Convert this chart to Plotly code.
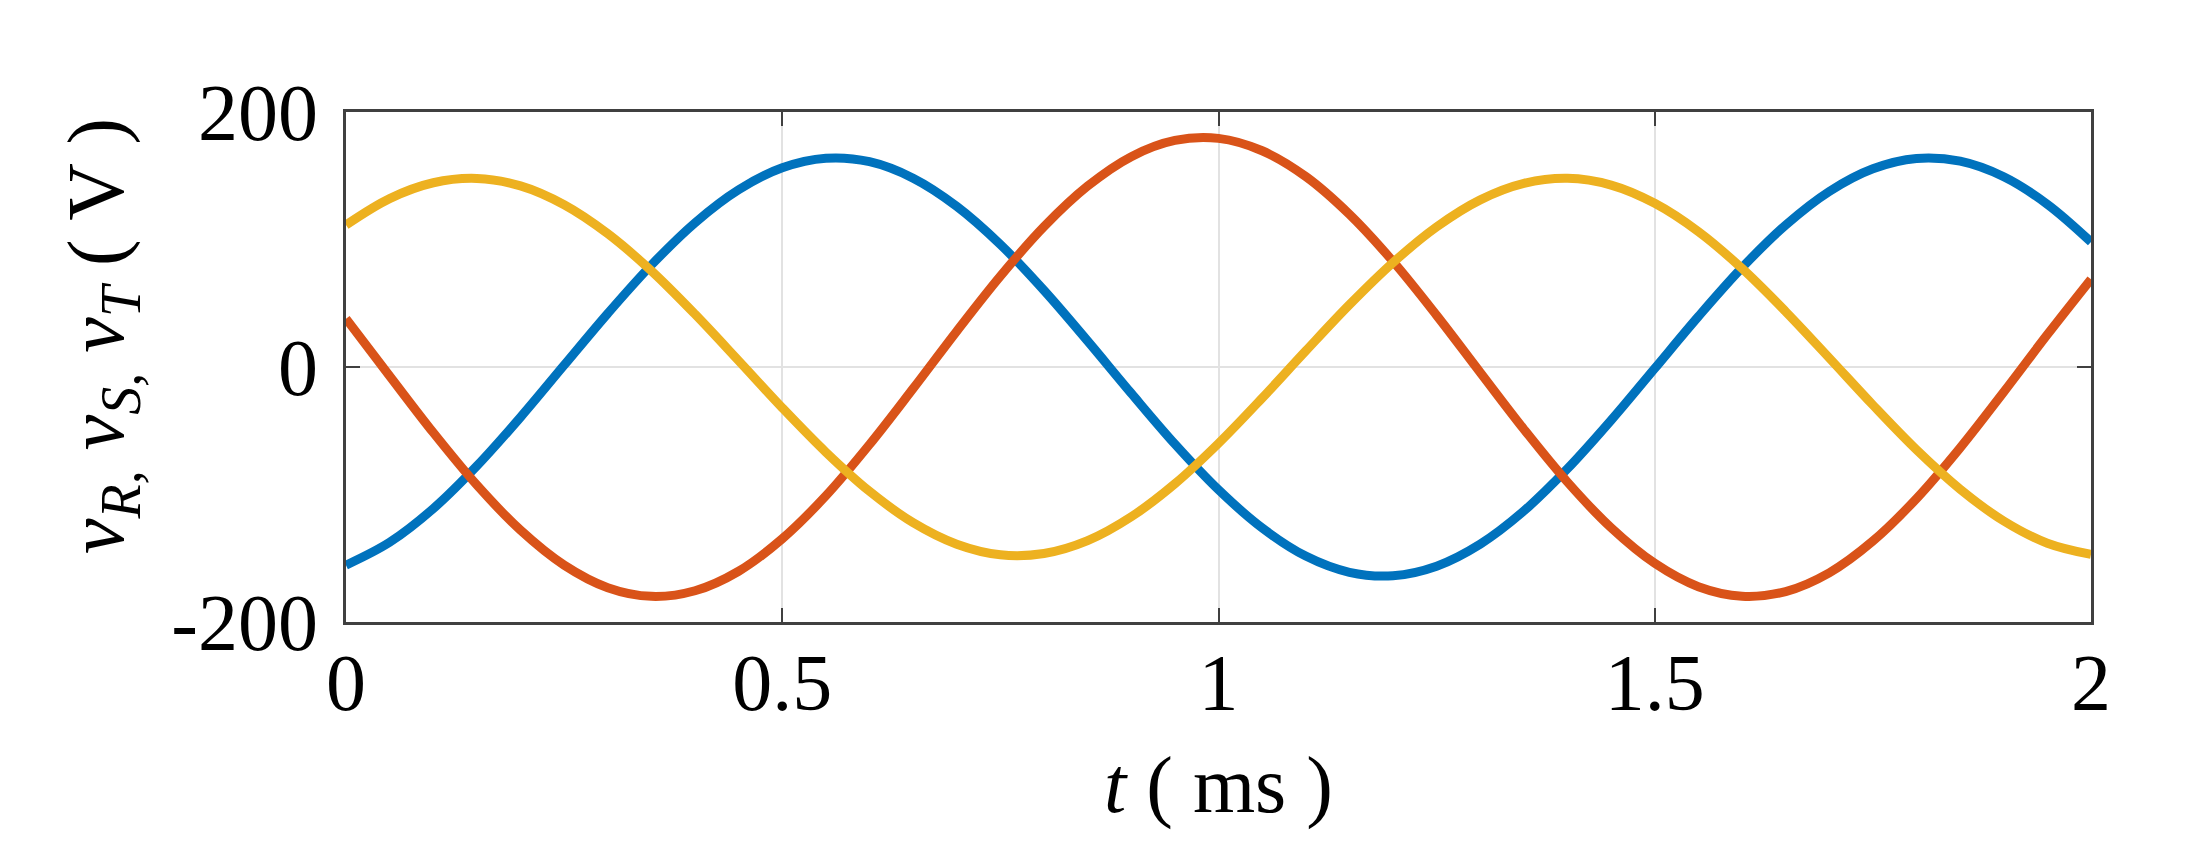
import plotly.graph_objects as go

# sample times (ms) and phase voltages (V)
t_ms = [0.0, 0.05, 0.1, 0.15, 0.2, 0.25, 0.3, 0.35, 0.4, 0.45,
        0.5, 0.55, 0.6, 0.65, 0.7, 0.75, 0.8, 0.85, 0.9, 0.95,
        1.0, 1.05, 1.1, 1.15, 1.2, 1.25, 1.3, 1.35, 1.4, 1.45,
        1.5, 1.55, 1.6, 1.65, 1.7, 1.75, 1.8, 1.85, 1.9, 1.95, 2.0]

v_r = [-155.4, -137.5, -111.1, -77.6, -39.4, 1.4, 42.0, 80.0, 113.1, 139.0,
       156.2, 163.7, 161.0, 148.1, 126.0, 96.1, 60.1, 20.4, -20.6, -60.4,
       -96.3, -126.2, -148.3, -161.0, -163.7, -156.2, -138.9, -112.9, -79.8, -41.8,
       -1.1, 39.6, 77.9, 111.3, 137.7, 155.5, 163.6, 161.4, 149.2, 127.6, 98.1]

v_s = [37.9, -7.0, -51.4, -92.6, -128.0, -155.4, -173.1, -179.9, -175.5, -160.2,
       -134.7, -101.0, -60.8, -16.9, 28.1, 71.3, 110.1, 141.9, 165.0, 177.7,
       179.3, 169.6, 149.4, 119.8, 82.8, 40.5, -4.3, -48.8, -90.3, -126.1,
       -154.0, -172.3, -179.8, -176.1, -161.4, -136.5, -103.2, -63.4, -19.6, 25.4, 68.8]

v_t = [111.4, 132.1, 144.5, 147.9, 142.1, 127.3, 104.6, 75.4, 41.4, 4.9,
       -32.0, -66.8, -97.5, -122.1, -139.0, -147.3, -146.3, -136.2, -117.5, -91.6,
       -59.9, -24.4, 12.6, 48.8, 81.9, 109.9, 131.1, 144.0, 148.0, 142.7,
       128.4, 106.2, 77.3, 43.5, 7.1, -29.8, -64.9, -95.8, -120.8, -138.2, -147.0]

x_ticks = [0, 0.5, 1, 1.5, 2]
x_labels = ['0', '0.5', '1', '1.5', '2']
y_ticks = [-200, 0, 200]
y_labels = ['-200', '0', '200']

FONT = 'Liberation Serif'
AXIS_COLOR = '#404040'

fig = go.Figure()

for y, color in [(v_r, '#0072BD'), (v_s, '#D95319'), (v_t, '#EDB120')]:
    fig.add_trace(go.Scatter(
        x=t_ms, y=y, mode='lines',
        line=dict(color=color, width=9, shape='spline'),
        showlegend=False,
    ))

axis_style = dict(
    showline=True, mirror='ticks', linecolor=AXIS_COLOR, linewidth=3,
    ticks='inside', ticklen=14, tickwidth=2, tickcolor=AXIS_COLOR,
    showgrid=True, gridcolor='#e2e2e2', gridwidth=2, zeroline=False,
    tickfont=dict(family=FONT, size=80, color='black'),
)

fig.update_xaxes(range=[0, 2], tickvals=x_ticks, ticktext=x_labels,
                 ticklabelstandoff=-11, **axis_style)
fig.update_yaxes(range=[-200, 200], tickvals=y_ticks, ticktext=y_labels,
                 ticklabelstandoff=9, **axis_style)

# axis titles
fig.add_annotation(
    text='<i>t</i> ( ms )', xref='paper', yref='paper',
    x=0.5, y=-0.32, xanchor='center', yanchor='middle', showarrow=False,
    font=dict(family=FONT, size=80, color='black'),
)
fig.add_annotation(
    text='<i>v</i><sub><i>R,</i></sub> <i>v</i><sub><i>S,</i></sub> '
         '<i>v</i><sub><i>T</i></sub> ( V )',
    xref='paper', yref='paper', x=-0.1395, y=0.56,
    xanchor='center', yanchor='middle', textangle=-90, showarrow=False,
    font=dict(family=FONT, size=80, color='black'),
)

# page body has an 8px margin, so offset the plot box accordingly
fig.update_layout(
    width=2190, height=865,
    margin=dict(l=338, r=107, t=104, b=251),
    plot_bgcolor='white', paper_bgcolor='white',
)

fig.write_html("out.html")
